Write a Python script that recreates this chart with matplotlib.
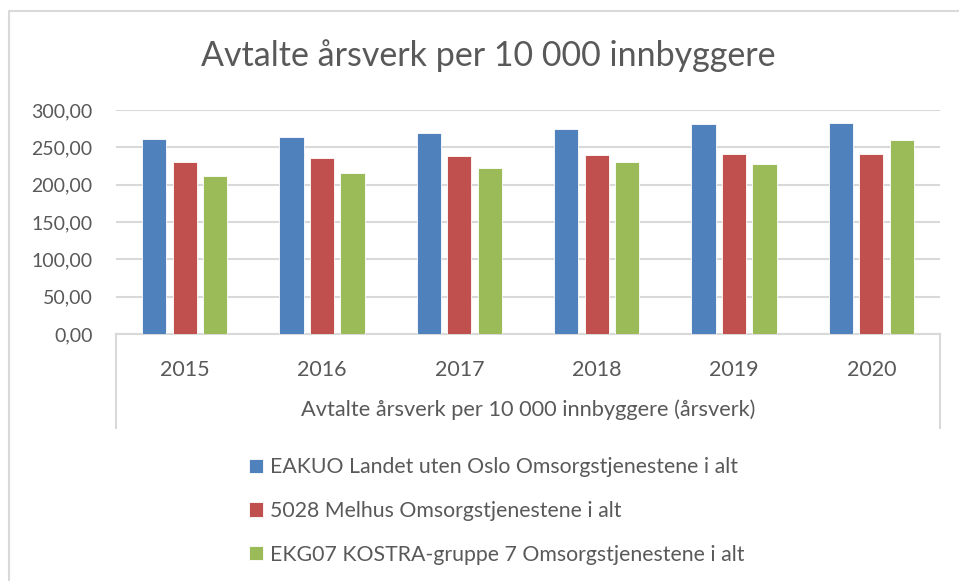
import matplotlib.pyplot as plt
import numpy as np
from matplotlib.lines import Line2D

years = ["2015", "2016", "2017", "2018", "2019", "2020"]
landet = [261.2, 263.4, 269.6, 275.0, 281.2, 283.0]
melhus = [230.8, 236.2, 238.4, 239.3, 240.6, 240.6]
kostra = [211.2, 215.2, 222.8, 230.8, 227.7, 259.4]
series_names = ["EAKUO Landet uten Oslo Omsorgstjenestene i alt",
                "5028 Melhus Omsorgstjenestene i alt",
                "EKG07 KOSTRA-gruppe 7 Omsorgstjenestene i alt"]
y_ticks = [0, 50, 100, 150, 200, 250, 300]

colors = ["#4F81BD", "#C0504D", "#9BBB59"]
text_col = "#595959"
grid_col = "#D9D9D9"
W, H = 959, 581

plt.rcParams['font.family'] = ['Lato', 'DejaVu Sans']

fig = plt.figure(figsize=(W / 100, H / 100), dpi=100)

# plot area in pixels: x 116..940, y 110..334
x0, x1, ytop, ybot = 116, 940, 110, 334
ax = fig.add_axes([x0 / W, 1 - ybot / H, (x1 - x0) / W, (ybot - ytop) / H])

x = np.arange(len(years))
bw = 0.177
pitch = 0.223
for i, (vals, c) in enumerate(zip([landet, melhus, kostra], colors)):
    ax.bar(x + (i - 1) * pitch, vals, width=bw, color=c,
           edgecolor="white", linewidth=0.6, label=series_names[i], zorder=3)

ax.set_xlim(-0.5, len(years) - 0.5)
ax.set_ylim(0, 300)
ax.set_yticks(y_ticks)
ax.set_yticklabels([f"{v:.2f}".replace(".", ",") for v in y_ticks],
                   fontsize=14, color=text_col)
ax.tick_params(axis="y", length=0, pad=17)
ax.yaxis.grid(True, color=grid_col, linewidth=1.5, zorder=0)
ax.set_xticks(x)
ax.set_xticklabels(years, fontsize=15.5, color=text_col)
ax.tick_params(axis="x", length=0, pad=19)
for s in ["top", "right", "left"]:
    ax.spines[s].set_visible(False)
ax.spines["bottom"].set_color(grid_col)
ax.spines["bottom"].set_linewidth(1.5)

# category axis box edges
for px in (x0, x1):
    fig.add_artist(Line2D([px / W, px / W], [1 - ybot / H, 1 - 428 / H],
                          color=grid_col, linewidth=1.5))

fig.text((x0 + x1) / 2 / W, 1 - 410 / H,
         "Avtalte årsverk per 10 000 innbyggere (årsverk)",
         ha="center", va="center", fontsize=15.7, color=text_col)

fig.text(488 / W, 1 - 56 / H, "Avtalte årsverk per 10 000 innbyggere",
         ha="center", va="center", fontsize=24.5, color=text_col)

# chart border (top and left visible)
fig.add_artist(Line2D([8.5 / W, 8.5 / W, 1.0], [0.0, 1 - 11 / H, 1 - 11 / H],
                      color=grid_col, linewidth=1.5))

handles, labels = ax.get_legend_handles_labels()
leg = fig.legend(handles, labels, loc="upper left",
                 bbox_to_anchor=(230 / W, 1 - 438 / H), frameon=False,
                 fontsize=15.3, labelcolor=text_col, handlelength=0.65,
                 handleheight=0.65, handletextpad=0.35, labelspacing=1.12)

fig.savefig("out.png", dpi=100, facecolor="white")
